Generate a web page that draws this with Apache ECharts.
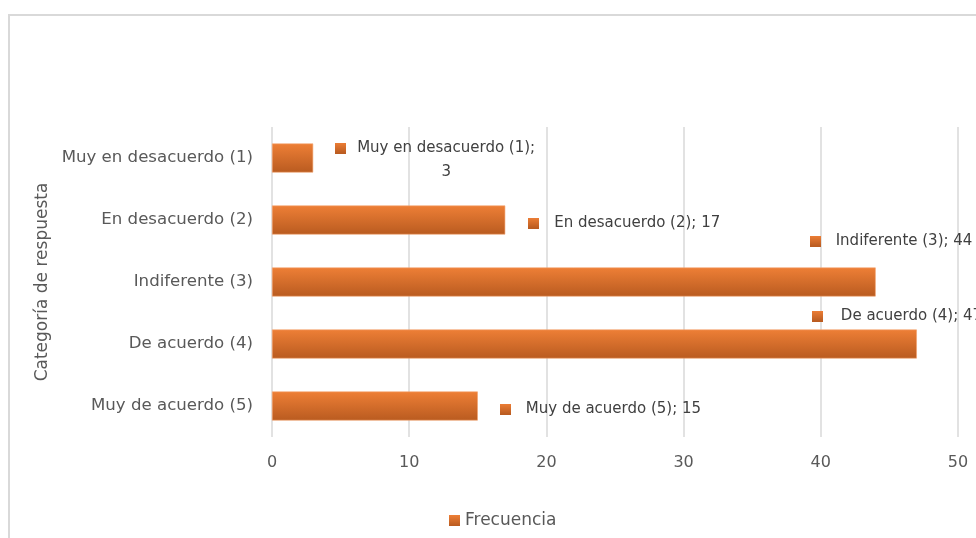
<!DOCTYPE html>
<html>
<head>
<meta charset="utf-8">
<script src="https://cdn.jsdelivr.net/npm/echarts@6/dist/echarts.min.js"></script>
<style>
  html, body { margin: 0; padding: 0; background: #fff; }
  #chart { width: 976px; height: 538px; }
</style>
</head>
<body>
<div id="chart"></div>
<script>
// categorias de arriba hacia abajo (eje invertido como en Excel)
var categorias = ['Muy en desacuerdo (1)', 'En desacuerdo (2)', 'Indiferente (3)', 'De acuerdo (4)', 'Muy de acuerdo (5)'];
var frecuencia = [3, 17, 44, 47, 15];
var ticksX = [0, 10, 20, 30, 40, 50];

var FONT = '"DejaVu Sans", sans-serif';
var FS_LBL = 15;   // etiquetas de datos
var GRIS = '#595959';
var TXT = '#404040';

// desplazamiento de cada etiqueta (como quedaron movidas a mano en el original)
var offsets = [[17, 2], [18, 3], [-71, -41], [-110, -28], [17, 3]];
// espacio entre el cuadrito y el texto
var huecos = [11, 15, 15, 18, 15];

// ancho de un texto, para centrar el "3" de la primera etiqueta
function anchoTexto(s) {
    var g = document.createElement('canvas').getContext('2d');
    g.font = FS_LBL + 'px ' + FONT;
    return g.measureText(s).width;
}

var chart = echarts.init(document.getElementById('chart'));

var barColor = new echarts.graphic.LinearGradient(0, 0, 0, 1, [
    { offset: 0, color: '#EE7F36' },
    { offset: 1, color: '#B95B20' }
]);

var datos = frecuencia.map(function (v, i) {
    var rich = { t: { fontFamily: FONT, fontSize: FS_LBL, color: TXT, padding: [0, 0, 0, huecos[i]] } };
    var txt;
    if (i === 0) {
        // el valor va centrado bajo el texto, no bajo el cuadrito
        rich.c = {
            fontFamily: FONT, fontSize: FS_LBL, color: TXT,
            width: anchoTexto(categorias[i] + ';'), align: 'center',
            padding: [0, 0, 0, 11 + huecos[i]]
        };
        txt = '{sq|}{t|' + categorias[i] + ';}\n{c' + '|' + v + '}';
    } else {
        txt = '{sq|}{t|' + categorias[i] + '; ' + v + '}';
    }
    return {
        value: v,
        label: { show: true, position: 'right', offset: offsets[i], formatter: txt, rich: rich }
    };
});

// cuadrito tipo clave de leyenda
var cuadro = (function () {
    var c = document.createElement('canvas');
    c.width = 11; c.height = 11;
    var g = c.getContext('2d');
    var gr = g.createLinearGradient(0, 0, 0, 11);
    gr.addColorStop(0, '#EE7F36');
    gr.addColorStop(1, '#B95B20');
    g.fillStyle = gr;
    g.fillRect(0, 0, 11, 11);
    return c.toDataURL();
})();

chart.setOption({
    animation: false,
    graphic: [{
        type: 'rect',
        shape: { x: 9, y: 15, width: 1200, height: 1200 },
        style: { fill: 'none', stroke: '#D9D9D9', lineWidth: 2 },
        silent: true
    }],
    grid: { left: 272, right: 18, top: 127, bottom: 101 },
    legend: {
        left: 449,
        top: 512,
        padding: 0,
        icon: 'rect',
        itemWidth: 11,
        itemHeight: 11,
        itemStyle: { borderWidth: 0 },
        textStyle: { fontFamily: FONT, fontSize: 17, color: GRIS },
        data: ['Frecuencia']
    },
    xAxis: {
        type: 'value',
        min: 0,
        max: 50,
        interval: 10,
        axisLine: { show: false },
        axisTick: { show: false },
        splitLine: { lineStyle: { color: '#D9D9D9', width: 1.5 } },
        axisLabel: {
            margin: 18,
            fontFamily: FONT,
            fontSize: 16,
            color: GRIS,
            formatter: function (v) { return ticksX.indexOf(v) >= 0 ? String(v) : ''; }
        }
    },
    yAxis: {
        type: 'category',
        inverse: true,
        data: categorias,
        name: 'Categoría de respuesta',
        nameLocation: 'middle',
        nameGap: 221,
        nameRotate: 90,
        nameTextStyle: { fontFamily: FONT, fontSize: 17, color: GRIS },
        axisLine: { show: false },
        axisTick: { show: false },
        axisLabel: { margin: 19, fontFamily: FONT, fontSize: 16.6, color: GRIS }
    },
    series: [{
        name: 'Frecuencia',
        type: 'bar',
        barWidth: 29,
        data: datos,
        itemStyle: { color: barColor, borderColor: '#F4A36E', borderWidth: 0.6 },
        label: {
            fontFamily: FONT,
            fontSize: FS_LBL,
            color: TXT,
            lineHeight: 24,
            rich: {
                sq: { width: 11, height: 11, backgroundColor: { image: cuadro } }
            }
        }
    }]
});
</script>
</body>
</html>
